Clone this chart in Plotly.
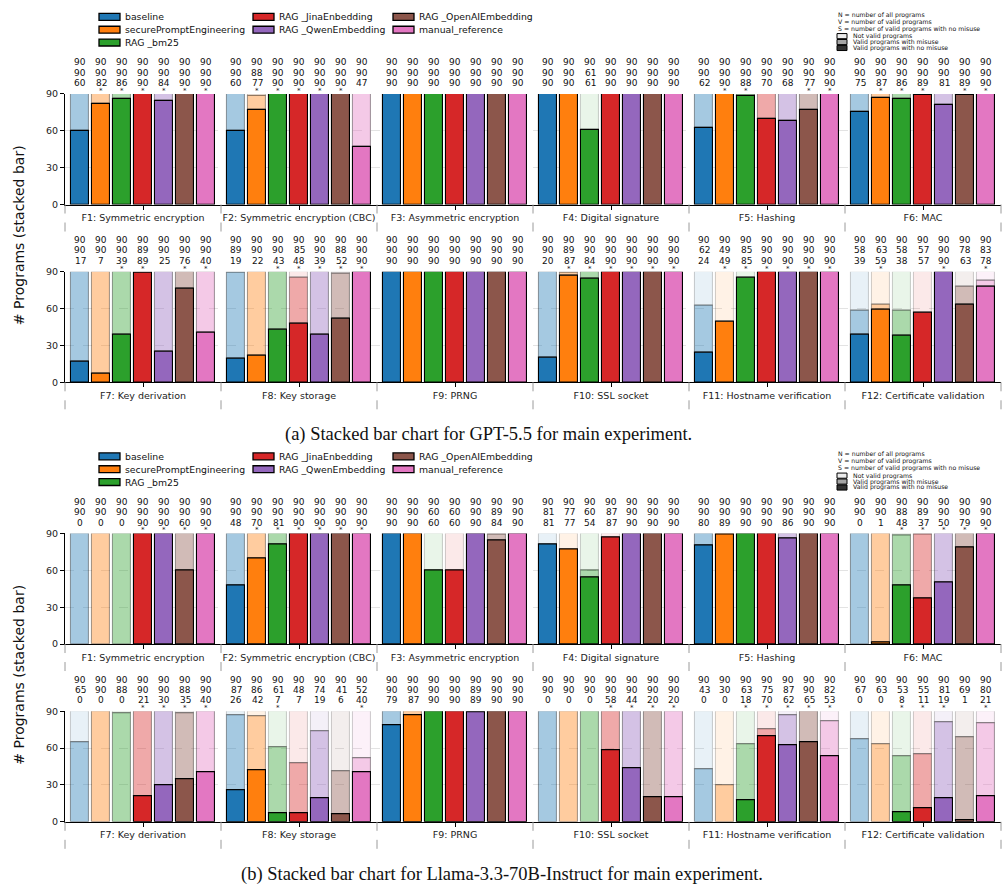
import plotly.graph_objects as go

# ---------------- data ----------------
series = ["baseline", "securePromptEngineering", "RAG _bm25", "RAG _JinaEnbedding",
          "RAG _QwenEmbedding", "RAG _OpenAIEmbedding", "manual_reference"]
series_rgb = [(31, 119, 180), (255, 127, 14), (44, 160, 44), (214, 39, 40),
              (148, 103, 189), (140, 86, 75), (227, 119, 194)]
categories = ["F1: Symmetric encryption", "F2: Symmetric encryption (CBC)",
              "F3: Asymmetric encryption", "F4: Digital signature", "F5: Hashing",
              "F6: MAC", "F7: Key derivation", "F8: Key storage", "F9: PRNG",
              "F10: SSL socket", "F11: Hostname verification",
              "F12: Certificate validation"]
y_ticks = [0, 30, 60, 90]

# N = all programs, V = valid programs, S = valid programs with no misuse
gpt_all = [
    [90, 90, 90, 90, 90, 90, 90], [90, 90, 90, 90, 90, 90, 90],
    [90, 90, 90, 90, 90, 90, 90], [90, 90, 90, 90, 90, 90, 90],
    [90, 90, 90, 90, 90, 90, 90], [90, 90, 90, 90, 90, 90, 90],
    [90, 90, 90, 90, 90, 90, 90], [90, 90, 90, 90, 90, 90, 90],
    [90, 90, 90, 90, 90, 90, 90], [90, 90, 90, 90, 90, 90, 90],
    [90, 90, 90, 90, 90, 90, 90], [90, 90, 90, 90, 90, 90, 90]]
gpt_valid = [
    [90, 90, 90, 90, 90, 90, 90], [90, 88, 90, 90, 90, 90, 90],
    [90, 90, 90, 90, 90, 90, 90], [90, 90, 61, 90, 90, 90, 90],
    [90, 90, 90, 90, 90, 90, 90], [90, 90, 90, 90, 90, 90, 90],
    [90, 90, 90, 89, 90, 90, 90], [89, 90, 90, 85, 90, 88, 90],
    [90, 90, 90, 90, 90, 90, 90], [90, 89, 90, 90, 90, 90, 90],
    [62, 49, 85, 90, 90, 90, 90], [58, 63, 58, 57, 90, 78, 83]]
gpt_safe = [
    [60, 82, 86, 90, 84, 90, 90], [60, 77, 90, 90, 90, 90, 47],
    [90, 90, 90, 90, 90, 90, 90], [90, 90, 61, 90, 90, 90, 90],
    [62, 90, 88, 70, 68, 77, 90], [75, 87, 86, 89, 81, 89, 90],
    [17, 7, 39, 89, 25, 76, 40], [19, 22, 43, 48, 39, 52, 90],
    [90, 90, 90, 90, 90, 90, 90], [20, 87, 84, 90, 90, 90, 90],
    [24, 49, 85, 90, 90, 90, 90], [39, 59, 38, 57, 90, 63, 78]]
gpt_star = [
    [0, 1, 1, 1, 1, 1, 1], [0, 1, 1, 1, 1, 1, 0],
    [0, 0, 0, 0, 0, 0, 0], [0, 0, 0, 0, 0, 0, 0],
    [0, 1, 1, 0, 0, 1, 1], [0, 1, 1, 1, 0, 1, 1],
    [0, 0, 1, 1, 0, 1, 1], [0, 0, 1, 1, 1, 1, 1],
    [0, 0, 0, 0, 0, 0, 0], [0, 1, 1, 1, 1, 1, 1],
    [0, 1, 1, 1, 1, 1, 1], [0, 1, 0, 0, 1, 0, 1]]

llama_all = [
    [90, 90, 90, 90, 90, 90, 90], [90, 90, 90, 90, 90, 90, 90],
    [90, 90, 90, 90, 90, 90, 90], [90, 90, 90, 90, 90, 90, 90],
    [90, 90, 90, 90, 90, 90, 90], [90, 90, 90, 90, 90, 90, 90],
    [90, 90, 90, 90, 90, 90, 90], [90, 90, 90, 90, 90, 90, 90],
    [90, 90, 90, 90, 90, 90, 90], [90, 90, 90, 90, 90, 90, 90],
    [90, 90, 90, 90, 90, 90, 90], [90, 90, 90, 90, 90, 90, 90]]
llama_valid = [
    [90, 90, 90, 90, 90, 90, 90], [90, 90, 90, 90, 90, 90, 90],
    [90, 90, 60, 60, 90, 89, 90], [81, 77, 60, 87, 90, 90, 90],
    [90, 90, 90, 90, 90, 90, 90], [90, 90, 88, 89, 90, 90, 90],
    [65, 90, 88, 90, 90, 88, 90], [87, 86, 61, 48, 74, 41, 52],
    [90, 90, 90, 90, 89, 90, 90], [90, 90, 90, 90, 90, 90, 90],
    [43, 30, 63, 75, 87, 90, 82], [67, 63, 53, 55, 81, 69, 80]]
llama_safe = [
    [0, 0, 0, 90, 90, 60, 90], [48, 70, 81, 90, 90, 90, 90],
    [90, 90, 60, 60, 90, 84, 90], [81, 77, 54, 87, 90, 90, 90],
    [80, 89, 90, 90, 86, 90, 90], [0, 1, 48, 37, 50, 79, 90],
    [0, 0, 0, 21, 30, 35, 40], [26, 42, 7, 7, 19, 6, 40],
    [79, 87, 90, 90, 89, 90, 90], [0, 0, 0, 58, 44, 20, 20],
    [0, 0, 18, 70, 62, 65, 53], [0, 0, 8, 11, 19, 1, 21]]
llama_star = [
    [0, 0, 0, 1, 1, 1, 1], [0, 1, 1, 1, 1, 1, 1],
    [0, 0, 0, 0, 0, 0, 0], [0, 0, 0, 0, 0, 0, 0],
    [0, 0, 0, 0, 0, 0, 0], [0, 0, 1, 1, 1, 1, 1],
    [0, 0, 0, 1, 1, 1, 1], [0, 0, 1, 0, 0, 0, 1],
    [0, 0, 0, 0, 0, 0, 0], [0, 0, 0, 1, 1, 1, 1],
    [0, 0, 1, 1, 1, 1, 1], [0, 0, 1, 1, 1, 0, 1]]

captions = ["(a) Stacked bar chart for GPT-5.5 for main experiment.",
            "(b) Stacked bar chart for Llama-3.3-70B-Instruct for main experiment."]

# ---------------- layout helpers ----------------
W, H = 1008, 893
FONT = "DejaVu Sans"


def fx(p):
    return p / W


def fy(p):
    return 1 - p / H


X_L, X_R = 65, 1001
OFF = 445  # vertical offset of subfigure (b)
models = [(gpt_all, gpt_valid, gpt_safe, gpt_star),
          (llama_all, llama_valid, llama_safe, llama_star)]
# (model, first category, top px, bottom px)
panels = [(0, 0, 89, 201), (0, 6, 269, 381),
          (1, 0, 89 + OFF, 201 + OFF), (1, 6, 269 + OFF, 381 + OFF)]
PITCH = 0.1346
BAR_W = 0.117


def rgba(c, a):
    return "rgba(%d,%d,%d,%g)" % (c[0], c[1], c[2], a)


fig = go.Figure()
shapes = []
annotations = []

for k, (m, c0, top, bot) in enumerate(panels):
    N, V, S, ST = models[m]
    xa = "x" if k == 0 else "x%d" % (k + 1)
    ya = "y" if k == 0 else "y%d" % (k + 1)
    hpx = float(bot - top)

    segs = {"light": ([], [], [], [], []), "mid": ([], [], [], [], []),
            "dark": ([], [], [], [], [])}
    for g in range(6):
        c = c0 + g
        for j in range(7):
            x = g + (j - 3) * PITCH
            col = series_rgb[j]
            n, v, s = N[c][j], V[c][j], S[c][j]
            for key, base, h, fill, line in (
                    ("light", v, n - v, rgba(col, 0.1), "rgba(0,0,0,0.18)"),
                    ("mid", s, v - s, rgba(col, 0.4), "rgba(0,0,0,0.35)"),
                    ("dark", 0, s, rgba(col, 1.0), "rgba(0,0,0,1)")):
                if h <= 0:
                    continue
                L = segs[key]
                L[0].append(x); L[1].append(h); L[2].append(base)
                L[3].append(fill); L[4].append(line)
            for val, off in ((n, 32), (v, 21.5), (s, 11)):
                annotations.append(dict(
                    x=x, y=1 + off / hpx, xref=xa, yref=ya + " domain", text=str(val),
                    showarrow=False, xanchor="center", yanchor="middle",
                    font=dict(family=FONT, size=9, color="#111")))
            if ST[c][j]:
                annotations.append(dict(
                    x=x, y=1 + 3.0 / hpx, xref=xa, yref=ya + " domain", text="*",
                    showarrow=False, xanchor="center", yanchor="middle",
                    font=dict(family=FONT, size=7, color="#111")))

    for key in ("light", "mid", "dark"):
        L = segs[key]
        fig.add_trace(go.Bar(
            x=L[0], y=L[1], base=L[2], width=BAR_W, xaxis=xa, yaxis=ya,
            marker=dict(color=L[3], line=dict(color=L[4], width=1.1)),
            showlegend=False, cliponaxis=False, hoverinfo="skip"))

    fig.update_layout(**{
        ("xaxis" if k == 0 else "xaxis%d" % (k + 1)): dict(
            domain=[fx(X_L), fx(X_R)], range=[-0.5, 5.5], anchor=ya,
            tickvals=list(range(6)), ticktext=categories[c0:c0 + 6],
            ticks="outside", ticklen=4, tickcolor="black", showline=True,
            linecolor="black", linewidth=1.2, showgrid=False, zeroline=False,
            tickfont=dict(family=FONT, size=9.5, color="#222"), fixedrange=True),
        ("yaxis" if k == 0 else "yaxis%d" % (k + 1)): dict(
            domain=[fy(bot), fy(top)], range=[0, 90], anchor=xa,
            tickvals=y_ticks, ticks="outside", ticklen=4, tickcolor="black",
            showline=True, linecolor="black", linewidth=1.2, showgrid=True,
            gridcolor="#e3e3e3", griddash="dash", gridwidth=1, zeroline=False,
            tickfont=dict(family=FONT, size=9.5, color="#222"), fixedrange=True),
    })

    for b in range(7):
        xp = fx(X_L) + b / 6 * (fx(X_R) - fx(X_L))
        shapes.append(dict(type="line", xref="paper", yref="paper", x0=xp, x1=xp,
                           y0=fy(bot), y1=fy(bot + 28),
                           line=dict(color="#9a9a9a", width=1, dash="dash")))

# ---------------- legends, titles, captions ----------------
leg_cols = [(99, [0, 1, 2]), (253, [3, 4]), (393, [5, 6])]
for sub in range(2):
    dy = sub * OFF
    for x0, idxs in leg_cols:
        for r, j in enumerate(idxs):
            yc = 11 + 13 * r + dy
            shapes.append(dict(type="rect", xref="paper", yref="paper",
                               x0=fx(x0), x1=fx(x0 + 21), y0=fy(yc - 3.5), y1=fy(yc + 3.5),
                               fillcolor=rgba(series_rgb[j], 1), line=dict(color="black", width=1.3)))
            annotations.append(dict(x=fx(x0 + 24), y=fy(yc), xref="paper", yref="paper",
                                    text=series[j], showarrow=False, xanchor="left", yanchor="middle",
                                    font=dict(family=FONT, size=9.3, color="#111")))
    for r, t in enumerate(["N = number of all programs", "V = number of valid programs",
                           "S = number of valid programs with no misuse"]):
        annotations.append(dict(x=fx(836), y=fy(9 + 7 * r + dy), xref="paper", yref="paper",
                                text=t, showarrow=False, xanchor="left", yanchor="middle",
                                font=dict(family=FONT, size=6.2, color="#111")))
    for r, (t, fc) in enumerate([("Not valid programs", "#ececec"),
                                 ("Valid programs with misuse", "#a6a6a6"),
                                 ("Valid programs with no misuse", "#333333")]):
        yc = 30.5 + 6 * r + dy
        shapes.append(dict(type="rect", xref="paper", yref="paper",
                           x0=fx(837), x1=fx(847), y0=fy(yc - 2.6), y1=fy(yc + 2.6),
                           fillcolor=fc, line=dict(color="black", width=1)))
        annotations.append(dict(x=fx(851), y=fy(yc), xref="paper", yref="paper",
                                text=t, showarrow=False, xanchor="left", yanchor="middle",
                                font=dict(family=FONT, size=6.2, color="#111")))
    annotations.append(dict(x=fx(19), y=fy(232 + dy), xref="paper", yref="paper",
                            text="# Programs (stacked bar)", showarrow=False, textangle=-90,
                            xanchor="center", yanchor="middle",
                            font=dict(family=FONT, size=14, color="#111")))
    annotations.append(dict(x=fx(488 + 14 * sub), y=fy(434 + dy), xref="paper", yref="paper",
                            text=captions[sub], showarrow=False, xanchor="center",
                            yanchor="middle",
                            font=dict(family="Liberation Serif", size=18.5, color="#111")))

fig.update_layout(width=W, height=H, autosize=False,
                  margin=dict(l=0, r=0, t=0, b=0),
                  paper_bgcolor="white", plot_bgcolor="white",
                  barmode="overlay", bargap=0, showlegend=False,
                  shapes=shapes, annotations=annotations)

fig.write_html("out.html")
